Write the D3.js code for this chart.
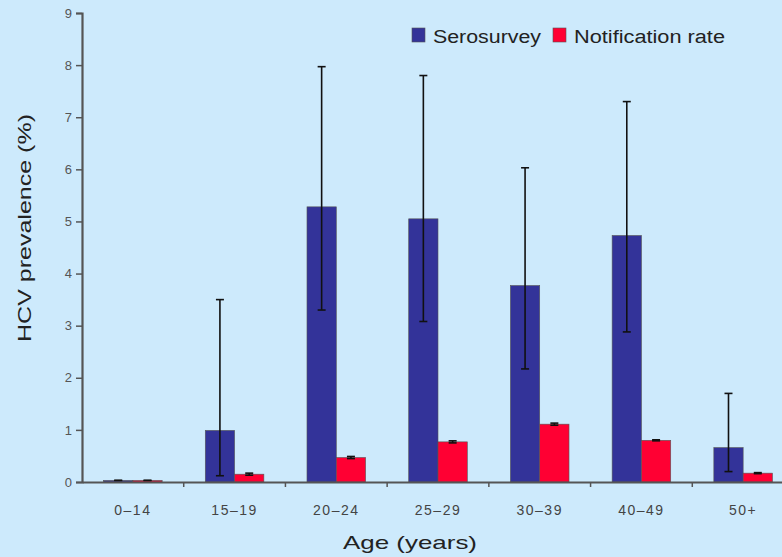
<!DOCTYPE html>
<html>
<head>
<meta charset="utf-8">
<script src="https://cdn.jsdelivr.net/npm/d3@7"></script>
<style>
  body { margin: 0; background: #cdeafc; }
  svg { display: block; font-family: "Liberation Sans", Arial, sans-serif; }
</style>
</head>
<body>
<svg id="chart" width="782" height="557"></svg>
<script>
// Dades
const ageGroups = ["0\u201314", "15\u201319", "20\u201324", "25\u201329", "30\u201339", "40\u201349", "50+"];
const serosurvey = [0.03, 0.99, 5.28, 5.05, 3.77, 4.73, 0.66];
const seroLow    = [0.03, 0.12, 3.30, 3.08, 2.17, 2.88, 0.20];
const seroHigh   = [0.03, 3.50, 7.97, 7.80, 6.03, 7.30, 1.70];
const notification = [0.03, 0.15, 0.47, 0.77, 1.11, 0.80, 0.17];
const notifLow     = [0.03, 0.13, 0.45, 0.75, 1.09, 0.79, 0.16];
const notifHigh    = [0.03, 0.17, 0.49, 0.79, 1.13, 0.81, 0.18];
const yTicks = [0, 1, 2, 3, 4, 5, 6, 7, 8, 9];

const seriesNames = ["Serosurvey", "Notification rate"];
const colors = { "Serosurvey": "#333399", "Notification rate": "#ff0033" };

const rows = ageGroups.map((g, i) => ({
    group: g,
    values: [
        { key: "Serosurvey", value: serosurvey[i], lo: seroLow[i], hi: seroHigh[i] },
        { key: "Notification rate", value: notification[i], lo: notifLow[i], hi: notifHigh[i] }
    ]
}));

const margin = { top: 13, left: 82 },
      plotHeight = 482 - margin.top;

const svg = d3.select("#chart");
const g = svg.append("g").attr("transform", `translate(${margin.left},${margin.top})`);

// Escala X (grups d'edat)
const x0 = d3.scaleBand()
    .domain(ageGroups)
    .range([0, 712])
    .padding(0);

const barW = x0.bandwidth() * 0.288;
const x1 = d3.scaleBand()
    .domain(seriesNames)
    .range([x0.bandwidth() / 2 - barW, x0.bandwidth() / 2 + barW])
    .padding(0);

// Escala Y
const y = d3.scaleLinear()
    .domain([0, 9])
    .range([plotHeight, 0]);

// Barres
const groups = g.selectAll(".grp")
    .data(rows)
    .enter()
    .append("g")
    .attr("class", "grp")
    .attr("transform", d => `translate(${x0(d.group)},0)`);

groups.selectAll("rect")
    .data(d => d.values)
    .enter()
    .append("rect")
    .attr("x", d => x1(d.key))
    .attr("y", d => y(d.value))
    .attr("width", x1.bandwidth())
    .attr("height", d => plotHeight - y(d.value))
    .attr("fill", d => colors[d.key])
    .attr("stroke", "#555")
    .attr("stroke-width", 0.6);

// Barres d'error
const err = groups.selectAll(".err")
    .data(d => d.values)
    .enter()
    .append("g")
    .attr("class", "err")
    .attr("stroke", "#111")
    .attr("stroke-width", 1.6);

err.append("line")
    .attr("x1", d => x1(d.key) + x1.bandwidth() / 2)
    .attr("x2", d => x1(d.key) + x1.bandwidth() / 2)
    .attr("y1", d => y(d.lo))
    .attr("y2", d => y(d.hi));

err.selectAll(".cap")
    .data(d => [d.lo, d.hi].map(v => ({ key: d.key, v })))
    .enter()
    .append("line")
    .attr("x1", d => x1(d.key) + x1.bandwidth() / 2 - 4)
    .attr("x2", d => x1(d.key) + x1.bandwidth() / 2 + 4)
    .attr("y1", d => y(d.v))
    .attr("y2", d => y(d.v));

// Eix Y
const yAxis = g.append("g")
    .call(d3.axisLeft(y).tickValues(yTicks).tickSize(6).tickPadding(4));
yAxis.select(".domain").attr("stroke", "#555").attr("stroke-width", 2.2);
yAxis.selectAll(".tick line").attr("stroke", "#555").attr("stroke-width", 1.5);
yAxis.selectAll(".tick text").attr("fill", "#555").attr("font-size", "13px");

// Eix X
const xAxis = g.append("g")
    .attr("transform", `translate(0,${plotHeight})`)
    .call(d3.axisBottom(x0).tickSize(0).tickPadding(23));
xAxis.select(".domain").attr("stroke", "#555").attr("stroke-width", 1.8);
xAxis.selectAll(".tick text")
    .attr("fill", "#444")
    .attr("font-size", "14px")
    .attr("letter-spacing", "1.5px");

// Marques entre categories
g.append("g")
    .selectAll("line")
    .data(ageGroups.slice(1))
    .enter()
    .append("line")
    .attr("x1", d => x0(d))
    .attr("x2", d => x0(d))
    .attr("y1", plotHeight)
    .attr("y2", plotHeight + 5)
    .attr("stroke", "#555")
    .attr("stroke-width", 1.5);

// Etiqueta eix Y
svg.append("text")
    .attr("transform", "rotate(-90)")
    .attr("x", -228)
    .attr("y", 31)
    .attr("text-anchor", "middle")
    .attr("font-size", "19px")
    .attr("textLength", 228)
    .attr("lengthAdjust", "spacingAndGlyphs")
    .attr("fill", "#222")
    .text("HCV prevalence (%)");

// Etiqueta eix X
svg.append("text")
    .attr("x", 410)
    .attr("y", 549)
    .attr("text-anchor", "middle")
    .attr("font-size", "19px")
    .attr("textLength", 134)
    .attr("lengthAdjust", "spacingAndGlyphs")
    .attr("fill", "#222")
    .text("Age (years)");

// Llegenda
const legendX = [412, 553];
const legendLen = [108, 151];
const legend = svg.append("g")
    .selectAll("g")
    .data(seriesNames)
    .enter()
    .append("g")
    .attr("transform", (d, i) => `translate(${legendX[i]},28)`);

legend.append("rect")
    .attr("width", 13)
    .attr("height", 14)
    .attr("fill", d => colors[d])
    .attr("stroke", "#555")
    .attr("stroke-width", 0.6);

legend.append("text")
    .attr("x", 21)
    .attr("y", 15)
    .attr("font-size", "18px")
    .attr("textLength", (d, i) => legendLen[i])
    .attr("lengthAdjust", "spacingAndGlyphs")
    .attr("fill", "#222")
    .text(d => d);
</script>
</body>
</html>
